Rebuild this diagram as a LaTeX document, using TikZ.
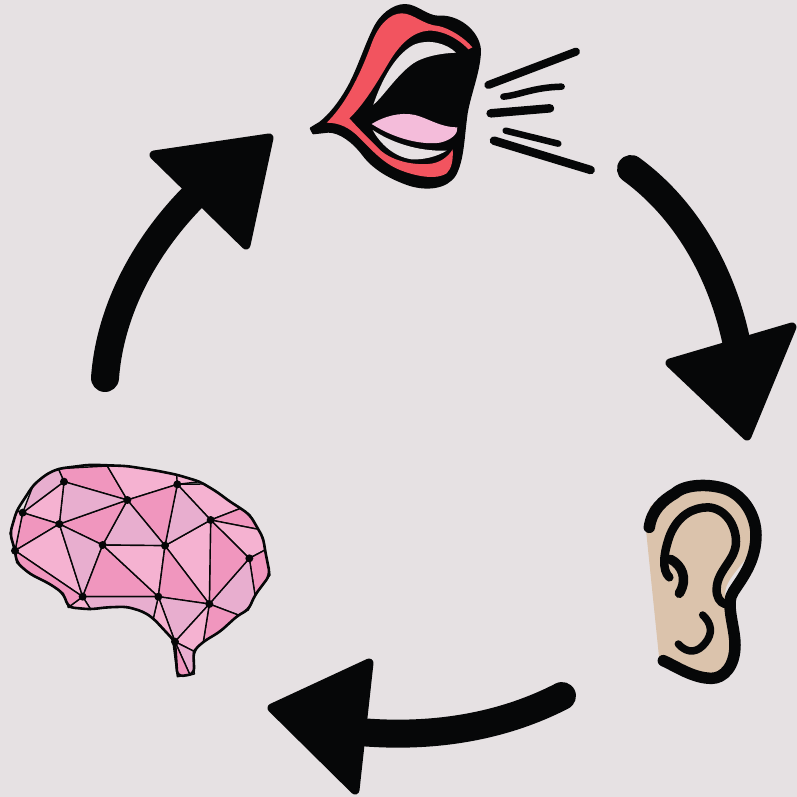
\documentclass[tikz,border=0pt]{standalone}
\definecolor{bgc}{HTML}{E6E1E3}
\definecolor{ink}{HTML}{060708}
\definecolor{lipred}{HTML}{F2545F}
\definecolor{tonguec}{HTML}{F4BCDA}
\definecolor{skinc}{HTML}{DBC3AC}
\definecolor{pl}{HTML}{F5B2D1}
\definecolor{pm}{HTML}{F096BE}
\definecolor{pv}{HTML}{E8AECF}
\tikzset{
  inkline/.style={draw=ink,line cap=round,line join=round},
  shaftline/.style={inkline,line width=28pt},
  headtip/.style={fill=ink,draw=ink,line width=9pt,line join=round},
  facet/.style={draw=ink,line width=1.4pt,line join=round},
  zoomed/.style={x=0.33333pt,y=-0.33333pt}
}
\begin{document}
\begin{tikzpicture}[x=1pt,y=-1pt]
\useasboundingbox (0,0) rectangle (797,797);
\fill[bgc] (0,0) rectangle (797,797);

% arrows
\coordinate (a1s) at (105,378);
\coordinate (a1e) at (195,195);
\draw[shaftline] (a1s) .. controls (110,310) and (145,245) .. (a1e);
\fill[headtip] (154,155) -- (269,138) -- (246,245) -- cycle;
\coordinate (a2s) at (631,169);
\coordinate (a2e) at (738,350);
\draw[shaftline] (a2s) .. controls (690,212) and (725,280) .. (a2e);
\fill[headtip] (670,363) -- (792,327) -- (747,436) -- cycle;
\coordinate (a3s) at (562,696);
\coordinate (a3e) at (360,732);
\draw[shaftline] (a3s) .. controls (500,728) and (430,738) .. (a3e);
\fill[headtip] (272,708) -- (369,663) -- (355,790) -- cycle;

% mouth
\begin{scope}[xshift=300pt,yshift=-0pt,zoomed]
\fill[ink,line join=round,draw=ink,line width=2pt] (32,385) -- (60,368)
 .. controls (90,345) and (120,305) .. (140,270)
 .. controls (170,220) and (195,140) .. (220,90)
 .. controls (240,45) and (280,15) .. (315,15)
 .. controls (350,15) and (380,50) .. (415,50)
 .. controls (470,45) and (535,90) .. (540,150)
 .. controls (540,210) and (510,280) .. (500,340)
 .. controls (490,410) and (490,480) .. (465,525)
 .. controls (440,565) and (380,570) .. (330,555)
 .. controls (270,535) and (220,505) .. (190,465)
 .. controls (160,425) and (120,395) .. (85,395)
 -- (40,400) -- cycle;
\fill[lipred] (80,368) .. controls (130,320) and (175,240) .. (215,130)
 .. controls (235,75) and (270,40) .. (305,40)
 .. controls (340,40) and (370,75) .. (415,78)
 .. controls (450,85) and (495,115) .. (517,142) -- (505,148)
 .. controls (470,110) and (420,90) .. (385,92)
 .. controls (340,95) and (300,130) .. (265,190)
 .. controls (235,240) and (195,310) .. (148,355)
 .. controls (175,385) and (210,420) .. (240,450)
 .. controls (280,485) and (340,495) .. (385,492)
 .. controls (420,490) and (445,470) .. (458,448)
 .. controls (460,480) and (455,505) .. (440,520)
 .. controls (410,540) and (350,530) .. (300,510)
 .. controls (250,490) and (215,450) .. (175,410)
 .. controls (150,385) and (120,368) .. (80,368) -- cycle;
\fill[bgc] (220,314) .. controls (245,240) and (285,165) .. (340,135)
 .. controls (385,115) and (440,130) .. (468,158)
 .. controls (420,160) and (370,170) .. (340,190)
 .. controls (290,225) and (250,290) .. (220,314) -- cycle;
\fill[bgc] (218,390) .. controls (270,425) and (350,455) .. (440,452)
 .. controls (410,470) and (370,480) .. (335,478)
 .. controls (280,470) and (240,430) .. (218,390) -- cycle;
\fill[tonguec] (215,372) .. controls (250,350) and (300,335) .. (345,345)
 .. controls (385,355) and (420,382) .. (472,382)
 .. controls (475,400) and (455,420) .. (420,428)
 .. controls (370,435) and (290,420) .. (215,372) -- cycle;
\draw[inkline,line width=8pt] (565,255) -- (828,155);
\draw[inkline,line width=6.5pt] (610,290) .. controls (660,285) and (700,262) .. (785,260);
\draw[inkline,line width=8.5pt] (572,340) -- (750,325);
\draw[inkline,line width=6.5pt] (617,392) -- (775,431);
\draw[inkline,line width=8.5pt] (582,422) -- (872,510);
\end{scope}

% ear
\begin{scope}[xshift=630pt,yshift=-470pt,zoomed]
\fill[skinc] (48,180) -- (60,110) -- (130,55) -- (230,40) -- (320,70) -- (375,190)
 -- (360,280) -- (305,380) -- (318,510) -- (300,590) -- (250,628) -- (180,615) -- (88,570) -- cycle;
\fill[bgc] (285,375) .. controls (285,340) and (310,315) .. (345,270) -- (325,340) -- cycle;
\draw[inkline,line width=11.5pt] (58,172) .. controls (65,120) and (100,90) .. (135,70)
 .. controls (165,42) and (240,40) .. (290,58)
 .. controls (345,80) and (378,140) .. (378,195)
 .. controls (378,270) and (340,320) .. (310,365)
 .. controls (285,400) and (315,470) .. (315,525)
 .. controls (315,590) and (280,625) .. (245,625)
 .. controls (190,625) and (140,590) .. (100,572);
\draw[inkline,line width=8.5pt] (118,322) .. controls (95,300) and (100,250) .. (120,195)
 .. controls (145,135) and (190,112) .. (235,112)
 .. controls (285,115) and (318,165) .. (318,215)
 .. controls (318,270) and (262,300) .. (260,355)
 .. controls (258,380) and (270,398) .. (285,402);
\draw[inkline,line width=9.5pt] (122,268) .. controls (155,285) and (175,325) .. (148,370);
\draw[inkline,line width=7.5pt] (218,435) .. controls (245,460) and (250,490) .. (225,520)
 .. controls (205,545) and (175,555) .. (145,522);
\end{scope}

% brain
\begin{scope}[xshift=0pt,yshift=-450pt,zoomed]
\coordinate (A) at (192,95);
\coordinate (B) at (68,188);
\coordinate (C) at (178,222);
\coordinate (D) at (45,302);
\coordinate (E) at (382,150);
\coordinate (F) at (532,103);
\coordinate (G) at (632,210);
\coordinate (H) at (308,285);
\coordinate (I) at (495,287);
\coordinate (J) at (748,325);
\coordinate (K) at (248,440);
\coordinate (L) at (475,440);
\coordinate (M) at (628,462);
\coordinate (N) at (525,575);
\coordinate (T1) at (322,48);
\coordinate (T2) at (175,56);
\coordinate (T3) at (530,74);
\coordinate (R1) at (722,175);
\coordinate (R2) at (775,238);
\coordinate (R3) at (795,300);
\coordinate (R4) at (765,435);
\coordinate (R5) at (715,495);
\coordinate (R6) at (610,575);
\coordinate (S1) at (580,603);
\coordinate (S2) at (583,672);
\coordinate (S3) at (532,680);
\coordinate (U1) at (460,505);
\coordinate (U2) at (272,478);
\coordinate (U3) at (205,472);
\filldraw[facet,fill=pm] (T2) -- (T1) -- (E) -- (A) -- cycle;
\filldraw[facet,fill=pl] (T1) -- (380,48) -- (470,62) -- (T3) -- (F) -- (E) -- cycle;
\filldraw[facet,fill=pl] (T3) -- (600,95) -- (F) -- cycle;
\filldraw[facet,fill=pl] (F) -- (610,102) -- (650,125) -- (690,155) -- (R1) -- (G) -- cycle;
\filldraw[facet,fill=pm] (G) -- (R1) -- (750,195) -- (R2) -- cycle;
\filldraw[facet,fill=pl] (G) -- (R2) -- (790,265) -- (R3) -- (J) -- cycle;
\filldraw[facet,fill=pm] (J) -- (R3) -- (810,375) -- (R4) -- cycle;
\filldraw[facet,fill=pv] (J) -- (R4) -- (745,480) -- (R5) -- (M) -- cycle;
\filldraw[facet,fill=pm] (M) -- (R5) -- (660,545) -- (R6) -- cycle;
\filldraw[facet,fill=pm] (G) -- (J) -- (M) -- cycle;
\filldraw[facet,fill=pl] (G) -- (M) -- (I) -- cycle;
\filldraw[facet,fill=pv] (F) -- (G) -- (I) -- cycle;
\filldraw[facet,fill=pm] (E) -- (F) -- (I) -- cycle;
\filldraw[facet,fill=pv] (E) -- (I) -- (H) -- cycle;
\filldraw[facet,fill=pm] (C) -- (E) -- (H) -- cycle;
\filldraw[facet,fill=pv] (A) -- (E) -- (C) -- cycle;
\filldraw[facet,fill=pl] (A) -- (C) -- (B) -- cycle;
\filldraw[facet,fill=pv] (T2) -- (A) -- (B) -- (100,105) -- (140,72) -- cycle;
\filldraw[facet,fill=pm] (B) -- (C) -- (D) -- cycle;
\filldraw[facet,fill=pl] (50,182) -- (B) -- (D) -- (30,250) -- cycle;
\filldraw[facet,fill=pl] (D) -- (C) -- (K) -- cycle;
\filldraw[facet,fill=pv] (C) -- (H) -- (K) -- cycle;
\filldraw[facet,fill=pm] (H) -- (L) -- (K) -- cycle;
\filldraw[facet,fill=pl] (H) -- (I) -- (L) -- cycle;
\filldraw[facet,fill=pm] (I) -- (M) -- (L) -- cycle;
\filldraw[facet,fill=pv] (L) -- (M) -- (N) -- cycle;
\filldraw[facet,fill=pl] (M) -- (R6) -- (S1) -- (N) -- cycle;
\filldraw[facet,fill=pl] (L) -- (N) -- (U1) -- cycle;
\filldraw[facet,fill=pv] (K) -- (L) -- (U1) -- (430,485) -- (380,470) -- (320,472) -- (U2) -- cycle;
\filldraw[facet,fill=pl] (K) -- (U2) -- (U3) -- cycle;
\filldraw[facet,fill=pm] (D) -- (K) -- (U3) -- (190,430) -- (150,402) -- (90,372) -- (50,338) -- cycle;
\filldraw[facet,fill=pv] (N) -- (S1) -- (S2) -- (570,675) -- cycle;
\filldraw[facet,fill=pm] (N) -- (570,675) -- (S3) -- (520,585) -- cycle;
% outline
\draw[inkline,line width=2.6pt,rounded corners=6pt] (T2) -- (270,44) -- (380,48) -- (470,62) -- (T3) -- (600,95) -- (650,125) -- (690,155) -- (R1) -- (750,195) -- (R2) -- (790,265) -- (R3) -- (810,375) -- (R4) -- (745,480) -- (R5) -- (660,545) -- (R6) -- (S1) -- (S2) -- (S3) -- (N) -- (U1) -- (430,485) -- (380,470) -- (320,472) -- (U2) -- (U3) -- (190,430) -- (150,402) -- (90,372) -- (50,338) -- (D) -- (30,250) -- (50,182) -- (100,105) -- (140,72) -- cycle;
\foreach \v in {A,B,C,D,E,F,G,H,I,J,K,L,M,N}
  \fill[ink] (\v) ellipse [x radius=12,y radius=12];
\end{scope}
\end{tikzpicture}
\end{document}
